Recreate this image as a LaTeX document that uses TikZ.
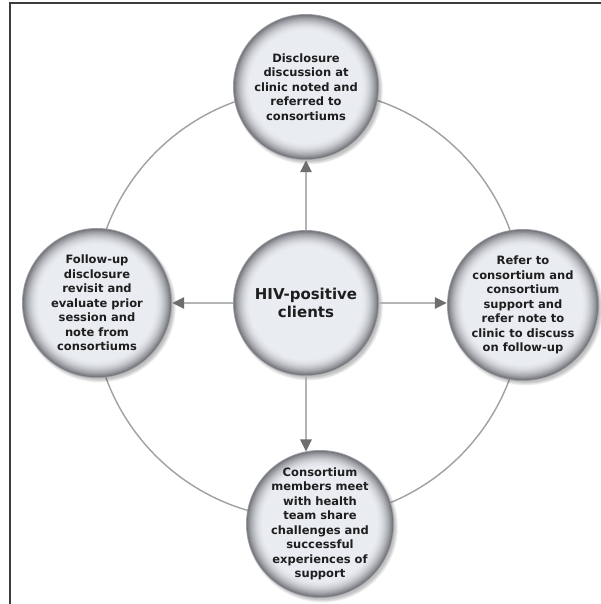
\documentclass[tikz,border=0pt]{standalone}
\usepackage{fontspec}
\setmainfont{DejaVu Sans}
\usetikzlibrary{arrows.meta,calc}
\definecolor{ballin}{HTML}{E9ECF1}
\definecolor{ballrim}{HTML}{74767B}
\definecolor{balledge}{HTML}{9FA1A6}
\definecolor{txt}{HTML}{1E1E1E}
\definecolor{ringc}{HTML}{A0A0A0}
\definecolor{shaft}{HTML}{B4B4B4}
\definecolor{headc}{HTML}{6E6E6E}
\definecolor{framec}{HTML}{3C3C3C}
\newcommand{\myball}[3]{%
  \foreach \j in {0,...,4}{\fill[black,opacity=0.05] (#1+2.5,#2+3) circle (#3+1.5-\j*0.8);}
  \fill[balledge] (#1,#2) circle (#3);
  \foreach \k in {0,...,20}{%
    \pgfmathtruncatemacro\pp{100*(1-\k/20)^2}%
    \fill[ballrim!\pp!ballin] (#1,#2) circle (#3-0.8-\k*0.85);}%
}
\tikzset{
  ball/.style={circle, minimum size=#1, inner sep=0pt, align=center, text=txt,
    font=\bfseries\fontsize{11.5}{14.5}\selectfont},
  ring/.style={draw=ringc, line width=1.4pt},
  flow/.style={draw=shaft, line width=2.6pt,
    -{Triangle[length=12pt,width=11pt,color=headc,fill=headc]}},
  framel/.style={draw=framec, line width=1.6pt}
}
\begin{document}
\begin{tikzpicture}[x=1pt,y=-1pt]
\useasboundingbox (0,0) rectangle (601,604);
\fill[white] (0,0) rectangle (601,604);
\draw[framel] (10,604) -- (10,3) -- (601,3);
\coordinate (O) at (308,304);
\draw[ring] (O) circle (215);
\myball{306}{87}{73}
\myball{97}{303}{75}
\myball{523}{305}{76}
\myball{320}{524}{74}
\myball{306}{303}{73}
\node[ball=146pt] (T) at (306,87) {Disclosure\\discussion at\\clinic noted and\\referred to\\consortiums};
\node[ball=150pt] (L) at (97,303) {Follow-up\\disclosure\\revisit and\\evaluate prior\\session and\\note from\\consortiums};
\node[ball=152pt] (R) at (523,305) {Refer to\\consortium and\\consortium\\support and\\refer note to\\clinic to discuss\\on follow-up};
\node[ball=148pt] (B) at (320,524) {Consortium\\members meet\\with health\\team share\\challenges and\\successful\\experiences of\\support};
\node[ball=146pt, font=\bfseries\fontsize{15}{18}\selectfont] (C) at (306,303) {HIV-positive\\clients};
\draw[flow] (C.north) -- (C.north |- T.south);
\draw[flow] (C.west) -- (C.west -| L.east);
\draw[flow] (C.east) -- (C.east -| R.west);
\draw[flow] (C.south) -- ($(C.south |- B.north)+(0,2)$);
\end{tikzpicture}
\end{document}
